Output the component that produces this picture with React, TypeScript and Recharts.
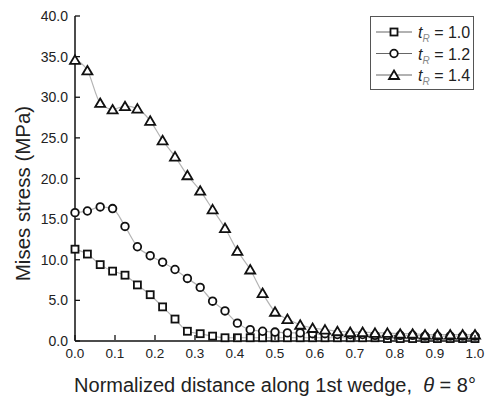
import React from 'react';
import { LineChart, Line, XAxis, YAxis, Label } from 'recharts';

// normalized positions along the wedge (33 nodes)
const positions = [
  0, 0.031, 0.063, 0.094, 0.125, 0.156, 0.188, 0.219, 0.25, 0.281, 0.313,
  0.344, 0.375, 0.406, 0.438, 0.469, 0.5, 0.531, 0.563, 0.594, 0.625, 0.656,
  0.688, 0.719, 0.75, 0.781, 0.813, 0.844, 0.875, 0.906, 0.938, 0.969, 1.0
];

const stressR10 = [
  11.3, 10.7, 9.4, 8.6, 8.1, 6.9, 5.7, 4.2, 2.7, 1.2, 0.9, 0.6, 0.4, 0.4, 0.4,
  0.4, 0.4, 0.4, 0.4, 0.4, 0.4, 0.4, 0.4, 0.4, 0.4, 0.3, 0.3, 0.3, 0.3, 0.3,
  0.3, 0.3, 0.3
];

const stressR12 = [
  15.8, 16.0, 16.5, 16.3, 14.1, 11.6, 10.5, 9.7, 8.8, 7.7, 6.6, 4.9, 3.7, 2.2,
  1.4, 1.2, 1.1, 1.0, 1.0, 0.9, 0.9, 0.8, 0.8, 0.8, 0.7, 0.7, 0.7, 0.7, 0.6,
  0.6, 0.6, 0.6, 0.6
];

const stressR14 = [
  34.6, 33.3, 29.3, 28.5, 28.9, 28.6, 27.1, 24.7, 22.7, 20.4, 18.5, 16.2, 13.9,
  11.1, 8.8, 5.9, 3.6, 2.7, 2.0, 1.6, 1.4, 1.2, 1.1, 1.1, 1.0, 1.0, 0.9, 0.9,
  0.8, 0.8, 0.8, 0.8, 0.8
];

const xTicks = [0, 0.1, 0.2, 0.3, 0.4, 0.5, 0.6, 0.7, 0.8, 0.9, 1.0];
const yTicks = [0, 5, 10, 15, 20, 25, 30, 35, 40];

const seriesLabels = ['1.0', '1.2', '1.4'];

const data = positions.map((x, i) => ({
  x,
  r10: stressR10[i],
  r12: stressR12[i],
  r14: stressR14[i]
}));

const FONT = '"Liberation Sans", Arial, sans-serif';
const INK = '#111';
const LINK = '#b4b4b4';

const SquareDot = ({ cx, cy }: any) => (
  <rect x={cx - 3.5} y={cy - 3.5} width={7} height={7} fill="#fff" stroke={INK} strokeWidth={1.8} />
);

const CircleDot = ({ cx, cy }: any) => (
  <circle cx={cx} cy={cy} r={3.8} fill="#fff" stroke={INK} strokeWidth={1.8} />
);

const TriangleDot = ({ cx, cy }: any) => (
  <path
    d={`M${cx},${cy - 4.5} L${cx + 5},${cy + 4} L${cx - 5},${cy + 4} Z`}
    fill="#fff"
    stroke={INK}
    strokeWidth={1.8}
    strokeLinejoin="miter"
  />
);

const markers = [SquareDot, CircleDot, TriangleDot];

const YTick = ({ x, y, payload }: any) => (
  <g>
    <line x1={x + 7} x2={x + 12} y1={y} y2={y} stroke={INK} strokeWidth={1.3} />
    <text x={x} y={y} dy={5} textAnchor="end" fontFamily={FONT} fontSize={14} fill="#222">
      {payload.value.toFixed(1)}
    </text>
  </g>
);

const XTick = ({ x, y, payload }: any) => (
  <g>
    <line x1={x} x2={x} y1={y - 6} y2={y - 11} stroke={INK} strokeWidth={1.3} />
    <text x={x} y={y} dy={12} textAnchor="middle" fontFamily={FONT} fontSize={13.5} fill="#222">
      {payload.value.toFixed(1)}
    </text>
  </g>
);

// legend box sits in the upper right corner of the plot
const LegendBox = () => (
  <div
    style={{
      position: 'absolute',
      left: 370,
      top: 16,
      width: 104,
      height: 74,
      border: '1.5px solid #555',
      background: '#fff',
      boxSizing: 'border-box'
    }}
  >
    <svg width={101} height={71} style={{ display: 'block' }}>
      {seriesLabels.map((lab, i) => {
        const cy = 15 + i * 21.5;
        const Marker = markers[i];
        return (
          <g key={lab}>
            <line x1={5} x2={41} y1={cy} y2={cy} stroke="#666" strokeWidth={1.2} />
            <Marker cx={23} cy={cy} />
            <text x={47} y={cy + 6} fontFamily={FONT} fontSize={16} fill="#222">
              <tspan fontStyle="italic">t</tspan>
              <tspan fontSize={10} dy={4} fontStyle="italic" fill="#888">R</tspan>
              <tspan dy={-4}> = {lab}</tspan>
            </text>
          </g>
        );
      })}
    </svg>
  </div>
);

const YTitle = ({ viewBox }: any) => {
  const cy = viewBox.y + viewBox.height / 2 + 15;
  return (
    <text
      x={30}
      y={cy}
      transform={`rotate(-90, 30, ${cy})`}
      textAnchor="middle"
      fontFamily={FONT}
      fontSize={20.5}
      fill="#222"
    >
      Mises stress (MPa)
    </text>
  );
};

const XTitle = ({ viewBox }: any) => {
  const cx = viewBox.x + viewBox.width / 2;
  return (
    <text x={cx} y={392} textAnchor="middle" fontFamily={FONT} fontSize={20} fill="#222" xmlSpace="preserve">
      Normalized distance along 1st wedge,{'  '}
      <tspan fontStyle="italic">θ</tspan> = 8°
    </text>
  );
};

export default function App() {
  return (
    <div style={{ position: 'absolute', left: 0, top: 0, width: 486, height: 403, background: '#fff' }}>
      <LineChart
        width={486}
        height={403}
        data={data}
        margin={{ top: 16, right: 11, bottom: 20, left: 0 }}
      >
        <XAxis
          dataKey="x"
          type="number"
          domain={[0, 1]}
          ticks={xTicks}
          interval={0}
          tickSize={0}
          tickMargin={5}
          tick={<XTick />}
          axisLine={{ stroke: INK, strokeWidth: 1.5 }}
          height={42}
        >
          <Label content={<XTitle />} />
        </XAxis>
        <YAxis
          type="number"
          domain={[0, 40]}
          ticks={yTicks}
          interval={0}
          tickSize={0}
          tickMargin={7}
          tick={<YTick />}
          axisLine={{ stroke: INK, strokeWidth: 1.5 }}
          width={75}
        >
          <Label content={<YTitle />} />
        </YAxis>
        <Line dataKey="r10" type="monotone" stroke={LINK} strokeWidth={1.2} dot={<SquareDot />} activeDot={false} isAnimationActive={false} />
        <Line dataKey="r12" type="monotone" stroke={LINK} strokeWidth={1.2} dot={<CircleDot />} activeDot={false} isAnimationActive={false} />
        <Line dataKey="r14" type="monotone" stroke={LINK} strokeWidth={1.2} dot={<TriangleDot />} activeDot={false} isAnimationActive={false} />
      </LineChart>
      <LegendBox />
    </div>
  );
}
